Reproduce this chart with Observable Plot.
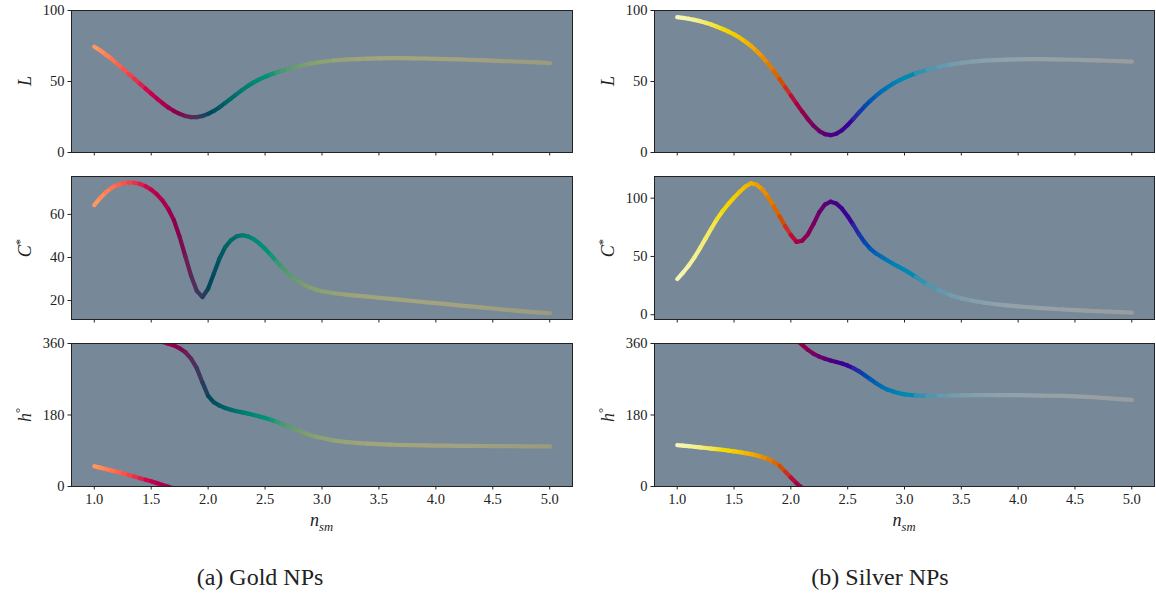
<!DOCTYPE html>
<html>
<head>
<meta charset="utf-8">
<script src="https://cdn.jsdelivr.net/npm/d3@7"></script>
<script src="https://cdn.jsdelivr.net/npm/@observablehq/plot@0.6"></script>
<style>
  body { margin: 0; background: #fff; }
  #fig { position: relative; width: 1156px; height: 598px; overflow: hidden; font-family: "Liberation Serif", "DejaVu Serif", serif; color: #222; }
  #fig svg text { font-family: "Liberation Serif", "DejaVu Serif", serif !important; }
  .cell { position: absolute; }
  .ylab { position: absolute; transform: translate(-50%, -50%) rotate(-90deg); font-size: 18px; white-space: nowrap; line-height: 1; }
  .xlab { position: absolute; transform: translate(-50%, -50%); font-size: 18px; white-space: nowrap; line-height: 1; }
  .cap { position: absolute; transform: translate(-50%, -50%); font-size: 24px; white-space: nowrap; line-height: 1; }
  sup, sub { font-size: 70%; line-height: 0; }
</style>
</head>
<body>
<div id="fig"></div>
<script>
// refractive index of surrounding medium
const nsm = [1.0,1.05,1.1,1.15,1.2,1.25,1.3,1.35,1.4,1.45,1.5,1.55,1.6,1.65,1.7,1.75,1.8,1.85,1.9,1.95,
             2.0,2.05,2.1,2.15,2.2,2.25,2.3,2.35,2.4,2.45,2.5,2.55,2.6,2.65,2.7,2.75,2.8,2.85,2.9,2.95,
             3.0,3.1,3.2,3.3,3.4,3.5,3.6,3.7,3.8,3.9,4.0,4.1,4.2,4.3,4.4,4.5,4.6,4.7,4.8,4.9,5.0];

// Gold NPs
const goldL = [74.5,72,69,66,62.5,59,55.5,52,48.5,45,41.5,38,34.7,31.7,29.2,27.2,25.7,24.9,24.9,25.7,
               27.2,29.3,31.9,34.9,38,41.1,44.1,46.9,49.4,51.5,53.3,54.9,56.3,57.6,58.8,59.9,60.9,61.8,62.6,63.3,
               63.9,64.8,65.4,65.8,66.1,66.3,66.4,66.4,66.3,66.2,66,65.8,65.6,65.3,65,64.7,64.4,64.1,63.8,63.4,63];
const goldC = [64.3,67.5,70.2,72.2,73.6,74.4,74.8,74.7,74.2,73.1,71.5,69.3,66.4,62.5,57.2,49.5,40.5,31.5,24.5,21.6,
               25.5,32.5,39.5,44.8,48,49.8,50.3,49.8,48.5,46.5,44,41.2,38.2,35.3,32.7,30.5,28.6,27.1,25.9,25,
               24.3,23.4,22.8,22.3,21.8,21.3,20.8,20.3,19.8,19.3,18.8,18.3,17.8,17.3,16.8,16.3,15.8,15.3,14.9,14.5,14.1];
const goldH = [51,47.5,44,40.5,37,33,29,25,21,17,13,8.5,4,359.5,355,348,338,322,298,262,
               228,212,203.5,197.5,193,189.5,186.5,183.5,180,176.5,172.5,168,163,157.5,151.5,145.5,139.5,134,129,125,
               122,116,112.5,110,108,106.5,105.5,104.5,104,103.5,103,102.8,102.5,102.2,102,101.8,101.6,101.4,101.2,101,100.8];

// Silver NPs
const silverL = [95.3,94.8,94.2,93.4,92.5,91.4,90.1,88.6,87,85.2,83.2,80.8,78,75,71.3,67.2,62.6,57.4,51.8,46,
                 40.2,34.4,28.8,23.5,18.8,15.1,12.9,12.2,13.2,15.7,19.4,23.7,28.2,32.5,36.4,40,43.2,46,48.5,50.7,
                 52.6,55.8,58.3,60.3,61.9,63.1,64,64.7,65.1,65.4,65.6,65.7,65.7,65.6,65.5,65.3,65.1,64.9,64.6,64.3,64];
const silverC = [30.6,36,42,49,57,65.5,74,82,89,95,100.5,105.5,110,112.8,111.5,107.5,101,93,84.5,76,
                 68.5,62.5,63.5,69,78,88,94.5,97,95.5,91,84.5,77,69,62,56.5,52.5,49.5,46.5,43.7,41,
                 38.5,32.5,26,21,17,14,12,10.3,9,8,7.2,6.4,5.7,5.1,4.5,4,3.5,3,2.6,2.2,1.8];
const silverH = [104,103,101.5,100,98.5,97,95.5,94,92.5,90.5,88.5,86.5,84,81.5,78,74,69,62,52,37.5,
                 22.5,8,356.5,344,334,327,321.5,317,313.5,309.5,304.5,298,290,280,270,260,251,244,239,235,
                 232,229,228.5,228.5,229,229.5,230,230,230,230,230,229.5,229,228.5,228,227,225.5,224,222,220,218];

// axes
const xTicks = [1.0,1.5,2.0,2.5,3.0,3.5,4.0,4.5,5.0];
const xDomain = [0.8, 5.2];
const lTicks = [0,50,100];
const goldCTicks = [20,40,60];
const silverCTicks = [0,50,100];
const hTicks = [0,180,360];
const captions = ["(a) Gold NPs", "(b) Silver NPs"];

function rows(L, C, H) {
  let off = 0, prev = null;
  return nsm.map((n, i) => {
    if (prev !== null) {
      const d = H[i] - prev;
      if (d > 180) off -= 360; else if (d < -180) off += 360;
    }
    prev = H[i];
    return { n, L: L[i], C: C[i], h: H[i], hu: H[i] + off,
             color: d3.hcl(H[i], C[i], L[i]).formatHex() };
  });
}

const gold = rows(goldL, goldC, goldH);
const silver = rows(silverL, silverC, silverH);

const fig = document.getElementById("fig");

const rowsLayout = [
  { top: 0,   height: 164, mb: 12, key: "L" },
  { top: 166, height: 165, mb: 12, key: "C" },
  { top: 333, height: 203, mb: 50, key: "h" }
];
const colLayout = [
  { left: 0,   width: 580, ml: 71, mr: 8 },
  { left: 580, width: 576, ml: 74, mr: 2 }
];

function panel(data, col, row, yDomain, yTicks, bottom) {
  const common = { x: "n", stroke: "color", z: null, strokeWidth: 4.2,
                   strokeLinecap: "round", strokeLinejoin: "round" };
  const marks = [Plot.frame({ fill: "#778899" })];
  if (row.key === "h") {
    marks.push(Plot.line(data, { ...common, y: "hu", clip: true }));
    marks.push(Plot.line(data, { ...common, y: d => d.hu + 360, clip: true }));
  } else {
    marks.push(Plot.line(data, { ...common, y: row.key }));
  }
  marks.push(Plot.frame({ stroke: "#222", strokeWidth: 1 }));
  const p = Plot.plot({
    width: col.width, height: row.height,
    marginLeft: col.ml, marginRight: col.mr, marginTop: 10, marginBottom: row.mb,
    x: { domain: xDomain, ticks: xTicks, tickSize: 3.5, tickPadding: 3.5,
         tickFormat: bottom ? (d => d.toFixed(1)) : (() => ""), label: null },
    y: { domain: yDomain, ticks: yTicks, tickSize: 3.5, tickPadding: 3.5, label: null },
    color: { type: "identity" },
    style: { fontFamily: "Liberation Serif, serif", fontSize: "14.5px",
             color: "#222", background: "transparent", overflow: "visible" },
    marks
  });
  const div = document.createElement("div");
  div.className = "cell";
  div.style.left = col.left + "px";
  div.style.top = row.top + "px";
  div.appendChild(p);
  fig.appendChild(div);
}

const sets = [
  { data: gold,   domains: [[0,100], [11.2,77.6], [0,360]],  ticks: [lTicks, goldCTicks, hTicks] },
  { data: silver, domains: [[0,100], [-4.1,118.6], [0,360]], ticks: [lTicks, silverCTicks, hTicks] }
];

sets.forEach((s, ci) => {
  rowsLayout.forEach((r, ri) => {
    panel(s.data, colLayout[ci], r, s.domains[ri], s.ticks[ri], ri === 2);
  });
});

// axis labels and captions
const yLabelHTML = ["<i>L</i>", "<i>C</i><sup>*</sup>", "<i>h</i><sup>&deg;</sup>"];
const panelMidY = [81, 247.5, 414.5];
colLayout.forEach((c, ci) => {
  const frameLeft = c.left + c.ml;
  const frameRight = c.left + c.width - c.mr;
  yLabelHTML.forEach((html, ri) => {
    const el = document.createElement("div");
    el.className = "ylab";
    el.innerHTML = html;
    el.style.left = (frameLeft - 46) + "px";
    el.style.top = panelMidY[ri] + "px";
    fig.appendChild(el);
  });
  const xl = document.createElement("div");
  xl.className = "xlab";
  xl.innerHTML = "<i>n</i><sub><i>sm</i></sub>";
  xl.style.left = ((frameLeft + frameRight) / 2) + "px";
  xl.style.top = "520px";
  fig.appendChild(xl);
  const cap = document.createElement("div");
  cap.className = "cap";
  cap.textContent = captions[ci];
  cap.style.left = (ci === 0 ? 260 : 880) + "px";
  cap.style.top = "577px";
  fig.appendChild(cap);
});
</script>
</body>
</html>
